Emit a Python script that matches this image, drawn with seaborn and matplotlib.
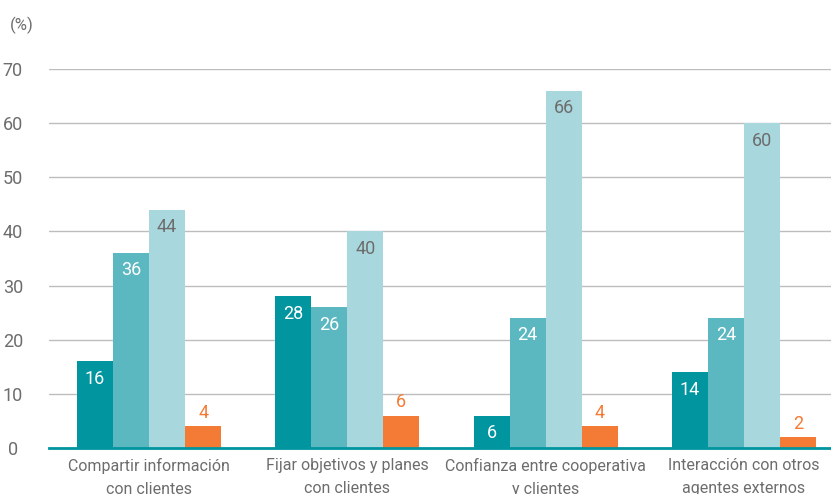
import matplotlib
matplotlib.use("Agg")
import matplotlib.pyplot as plt
import seaborn as sns
import pandas as pd

categories = ["Compartir información\ncon clientes",
              "Fijar objetivos y planes\ncon clientes",
              "Confianza entre cooperativa\ny clientes",
              "Interacción con otros\nagentes externos"]
series_names = ["Serie 1", "Serie 2", "Serie 3", "Serie 4"]
serie1 = [16, 28, 6, 14]
serie2 = [36, 26, 24, 24]
serie3 = [44, 40, 66, 60]
serie4 = [4, 6, 4, 2]
yticks = [0, 10, 20, 30, 40, 50, 60, 70]

colors = ["#00959F", "#5BB7C0", "#A9D7DE", "#F47B35"]
label_colors = ["white", "white", "#6d6d6d", "#F47B35"]

rows = []
for name, vals in zip(series_names, [serie1, serie2, serie3, serie4]):
    for c, v in zip(categories, vals):
        rows.append({"cat": c, "serie": name, "val": v})
df = pd.DataFrame(rows)

sns.set_theme(style="white")
plt.rcParams["font.family"] = ["Roboto", "DejaVu Sans"]

fig = plt.figure(figsize=(8.31, 4.94), dpi=100)
ax = fig.add_axes([49/831, 46/494, 1 - 49/831, (448-69)/494])

sns.barplot(data=df, x="cat", y="val", hue="serie", palette=colors,
            width=0.727, gap=0, saturation=1, linewidth=0, legend=False, ax=ax,
            zorder=3)

ax.set_ylim(0, 70)
ax.set_xlim(-0.505, 3.44)
ax.set_yticks(yticks)
ax.set_yticklabels([str(t) for t in yticks], fontsize=13, color="#6d6d6d", ha="center")
ax.tick_params(axis="y", length=0, pad=26)
ax.tick_params(axis="x", length=0, pad=7.5)
for lab in ax.get_xticklabels():
    lab.set_fontsize(11.5)
    lab.set_color("#6d6d6d")
    lab.set_linespacing(1.65)
ax.set_xlabel("")
ax.set_ylabel("")
ax.grid(axis="y", color="#bdbdbd", linewidth=1, zorder=0)
ax.grid(axis="x", visible=False)
for s in ["left", "right", "top"]:
    ax.spines[s].set_visible(False)
ax.spines["bottom"].set_color("#00959F")
ax.spines["bottom"].set_linewidth(2)
ax.spines["bottom"].set_zorder(4)

for i, cont in enumerate(ax.containers):
    if i == 3:
        ax.bar_label(cont, padding=3, fontsize=13, color=label_colors[i])
    else:
        ax.bar_label(cont, padding=-19, fontsize=13, color=label_colors[i])

fig.text(10/831, 1 - 25/494, "(%)", fontsize=12, color="#6d6d6d", va="center", ha="left")

fig.savefig("out.png", dpi=100)
